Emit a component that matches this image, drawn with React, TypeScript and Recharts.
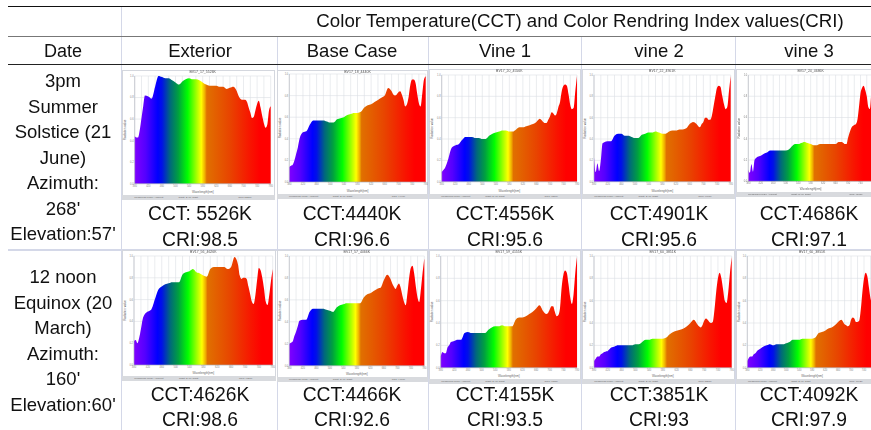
import { AreaChart, Area, XAxis, YAxis, CartesianGrid } from "recharts";

// wavelengths in nm: finer steps where the curves have sharp spikes
const wavelengths = [
  380, 385, 390, 395, 400, 405, 410,
  420, 430, 440, 450, 460, 470, 480, 490, 500, 510, 520, 530, 540, 550, 560, 570, 580, 590, 600, 610, 620, 630, 640, 650, 660, 670, 680,
  685, 690, 695, 700, 705, 710, 715, 720, 725, 730, 735, 740, 745, 750, 755, 760, 765, 770, 775, 780,
];

// relative radiation (percent of the peak)
const exteriorJune = [
  44, 43, 43, 50, 61, 72, 82,
  81, 79, 90, 100, 99, 98, 98, 96, 94, 92, 95, 97, 98, 97, 97, 96, 94, 92, 91, 91, 91, 90, 90, 88, 89, 90, 86,
  82, 79, 78, 78, 78, 76, 71, 66, 61, 62, 68, 74, 77, 71, 63, 56, 52, 55, 68, 72,
];
const baseJune = [
  14, 15, 16, 20, 26, 32, 40,
  46, 47, 53, 57, 57, 57, 57, 56, 55, 55, 58, 59, 60, 62, 63, 64, 64, 65, 69, 71, 72, 74, 76, 78, 80, 87, 84,
  81, 80, 81, 83, 84, 81, 76, 70, 72, 79, 90, 95, 95, 92, 82, 73, 70, 82, 95, 98,
];
const vine1June = [
  9, 11, 13, 17, 22, 28, 32,
  34, 35, 39, 42, 42, 42, 41, 41, 40, 40, 43, 45, 46, 47, 48, 48, 47, 47, 49, 51, 51, 52, 53, 54, 56, 59, 56,
  55, 55, 58, 61, 65, 64, 62, 64, 70, 75, 85, 90, 91, 90, 82, 72, 68, 69, 85, 99,
];
const vine2June = [
  23, 9, 17, 10, 20, 36, 37,
  38, 38, 43, 45, 45, 43, 43, 42, 41, 41, 44, 45, 46, 46, 47, 46, 45, 45, 47, 48, 48, 49, 49, 50, 54, 56, 54,
  52, 51, 54, 56, 60, 60, 58, 58, 62, 71, 80, 88, 90, 89, 81, 73, 68, 70, 85, 99,
];
const vine3June = [
  11, 8, 16, 9, 20, 22, 23,
  24, 26, 27, 29, 29, 29, 29, 29, 29, 30, 33, 35, 35, 36, 37, 36, 35, 34, 34, 35, 35, 35, 35, 35, 35, 37, 37,
  36, 35, 35, 41, 46, 50, 52, 53, 54, 58, 70, 83, 88, 90, 86, 80, 70, 68, 85, 98,
];
const exteriorMarch = [
  22, 23, 20, 25, 33, 42, 46,
  49, 51, 60, 69, 72, 74, 75, 76, 76, 76, 83, 85, 86, 88, 85, 84, 82, 81, 88, 90, 90, 90, 90, 88, 90, 99, 92,
  82, 79, 80, 80, 79, 72, 65, 58, 56, 64, 78, 89, 87, 80, 70, 58, 55, 64, 77, 88,
];
const baseMarch = [
  20, 21, 22, 27, 31, 36, 41,
  42, 42, 49, 52, 52, 52, 52, 51, 50, 49, 53, 55, 56, 57, 57, 57, 57, 57, 62, 65, 66, 68, 70, 71, 78, 83, 79,
  75, 72, 70, 73, 75, 71, 64, 58, 55, 66, 80, 89, 91, 84, 72, 62, 58, 70, 85, 98,
];
const vine1March = [
  10, 14, 13, 13, 18, 20, 23,
  24, 25, 25, 31, 32, 31, 31, 31, 31, 31, 34, 36, 37, 37, 38, 37, 37, 37, 43, 45, 45, 46, 48, 50, 53, 56, 51,
  49, 48, 49, 52, 55, 55, 50, 46, 47, 53, 72, 83, 87, 85, 75, 63, 57, 66, 85, 99,
];
const vine2March = [
  6, 8, 10, 10, 12, 13, 14,
  15, 18, 19, 20, 20, 20, 20, 20, 21, 21, 23, 25, 25, 26, 26, 26, 26, 27, 30, 32, 33, 34, 35, 37, 40, 43, 39,
  37, 36, 38, 42, 44, 43, 41, 40, 41, 52, 68, 80, 85, 80, 70, 60, 58, 68, 85, 99,
];
const vine3March = [
  6, 9, 10, 10, 12, 13, 15,
  17, 19, 20, 21, 20, 21, 21, 21, 22, 23, 25, 25, 25, 26, 26, 26, 26, 27, 31, 32, 33, 35, 36, 38, 41, 43, 39,
  38, 37, 38, 43, 45, 44, 41, 41, 42, 52, 68, 80, 85, 82, 72, 62, 58, 68, 85, 99,
];

const xTicks = [380, 400, 420, 440, 460, 480, 500, 520, 540, 560, 580, 600, 620, 640, 660, 680, 700, 720, 740, 760, 780];
const yTicks = [0, 0.2, 0.4, 0.6, 0.8, 1];

const columnHeaders = ["Exterior", "Base Case", "Vine 1", "vine 2", "vine 3"];
const columnCenters = [200, 352, 505, 659, 809];
const juneLabel = ["3pm", "Summer", "Solstice (21", "June)", "Azimuth:", "268'", "Elevation:57'"];
const marchLabel = ["12 noon", "Equinox (20", "March)", "Azimuth:", "160'", "Elevation:60'"];
const juneCct = ["CCT: 5526K", "CCT:4440K", "CCT:4556K", "CCT:4901K", "CCT:4686K"];
const juneCri = ["CRI:98.5", "CRI:96.6", "CRI:95.6", "CRI:95.6", "CRI:97.1"];
const marchCct = ["CCT:4626K", "CCT:4466K", "CCT:4155K", "CCT:3851K", "CCT:4092K"];
const marchCri = ["CRI:98.6", "CRI:92.6", "CRI:93.5", "CRI:93", "CRI:97.9"];

type Panel = {
  title: string;
  cct: string;
  values: number[];
  frame: [number, number, number, number]; // left, top, right, bottom
  plot: [number, number, number, number];
};

const panels: Panel[] = [
  { title: "BV17_17_5526K", cct: "5526", values: exteriorJune, frame: [122, 70, 275, 200], plot: [134.7, 76, 270.7, 183.7] },
  { title: "BV17_18_4440K", cct: "4440", values: baseJune, frame: [277, 70, 428, 199], plot: [289.3, 74, 425.7, 182] },
  { title: "BV17_20_4556K", cct: "4556", values: vine1June, frame: [429, 69, 581, 199], plot: [441.7, 75, 577, 181.7] },
  { title: "BV17_22_4901K", cct: "4901", values: vine2June, frame: [582, 69, 735, 199], plot: [594, 75, 730.7, 181.7] },
  { title: "BV17_24_4686K", cct: "4686", values: vine3June, frame: [736, 69, 885, 197], plot: [748.3, 75, 873, 181.3] },
  { title: "BV17_56_4626K", cct: "4626", values: exteriorMarch, frame: [122, 250, 276, 381], plot: [134, 256, 272.7, 365] },
  { title: "BV17_57_4466K", cct: "4466", values: baseMarch, frame: [277, 250, 428, 382], plot: [289.3, 256, 424.3, 365.7] },
  { title: "BV17_59_4155K", cct: "4155", values: vine1March, frame: [429, 250, 581, 384], plot: [440.7, 256, 577, 367.7] },
  { title: "BV17_60_3851K", cct: "3851", values: vine2March, frame: [582, 250, 735, 384], plot: [594, 256, 731.7, 367.7] },
  { title: "BV17_60_3851K", cct: "4092", values: vine3March, frame: [736, 250, 885, 384], plot: [747.3, 256, 877, 367.7] },
];

const spectrumStops: [number, string][] = [
  [0, "#8000ff"],
  [0.08, "#5400ff"],
  [0.17, "#0000ff"],
  [0.2, "#0010e8"],
  [0.26, "#00687c"],
  [0.32, "#00a040"],
  [0.39, "#00ff00"],
  [0.44, "#80ff00"],
  [0.49, "#ffff00"],
  [0.515, "#f0b000"],
  [0.53, "#e07000"],
  [0.7, "#e84400"],
  [0.85, "#f81400"],
  [0.92, "#ff0000"],
  [1, "#ff0000"],
];

const statusOffsets = [0.08, 0.37, 0.76];

const font = '"Liberation Sans", Arial, sans-serif';

function Spectrum({ panel, index }: { panel: Panel; index: number }) {
  const [fl, ft, fr, fb] = panel.frame;
  const [pl, pt, pr, pb] = panel.plot;
  const data = wavelengths.map((nm, i) => ({ nm, value: panel.values[i] / 100 }));
  const status = ["Measuring Mode: Ambient", "Sight: 2Am: Sight", `CCT: ${panel.cct}K`];
  return (
    <div
      style={{
        position: "absolute",
        left: fl,
        top: ft,
        width: fr - fl,
        height: fb - ft,
        background: "#fff",
        boxShadow: "inset 0 0 0 1px #d4d7de",
        filter: "blur(0.35px)",
      }}
    >
      <AreaChart
        width={fr - fl}
        height={fb - ft}
        data={data}
        margin={{ top: pt - ft, right: fr - pr, left: 0, bottom: 0 }}
      >
        <defs>
          <linearGradient id={`spectrum${index}`} x1="0" y1="0" x2="1" y2="0">
            {spectrumStops.map(([o, c]) => (
              <stop key={o} offset={o} stopColor={c} />
            ))}
          </linearGradient>
        </defs>
        <CartesianGrid stroke="#dcdfe4" strokeWidth={0.6} />
        <XAxis
          dataKey="nm"
          type="number"
          domain={[380, 780]}
          ticks={xTicks}
          interval={0}
          height={fb - pb}
          tickLine={false}
          tickSize={1}
          axisLine={{ stroke: "#b0b4bc", strokeWidth: 0.6 }}
          tick={{ fontSize: 2.6, fill: "#888", fontFamily: font }}
          tickFormatter={(v: number) => ((v - 380) % 40 === 0 ? String(v) : "")}
          tickMargin={0}
          label={{ value: "Wavelength[nm]", position: "insideBottom", offset: 7, fontSize: 3, fill: "#666", fontFamily: font }}
        />
        <YAxis
          type="number"
          domain={[0, 1]}
          ticks={yTicks}
          interval={0}
          width={pl - fl}
          tickLine={false}
          tickSize={1}
          axisLine={{ stroke: "#b0b4bc", strokeWidth: 0.6 }}
          tick={{ fontSize: 2.6, fill: "#888", fontFamily: font }}
          tickFormatter={(v: number) => v.toFixed(1)}
          tickMargin={0}
          label={{
            value: "Radiation value",
            angle: -90,
            position: "insideLeft",
            offset: 3,
            fontSize: 3,
            fill: "#666",
            fontFamily: font,
            style: { textAnchor: "middle" },
          }}
        />
        <Area
          type="monotone"
          dataKey="value"
          stroke="none"
          fill={`url(#spectrum${index})`}
          fillOpacity={1}
          dot={false}
          activeDot={false}
          isAnimationActive={false}
        />
      </AreaChart>
      <div
        style={{
          position: "absolute",
          left: 0,
          width: pr - fl + pl - fl,
          top: 0,
          textAlign: "center",
          fontFamily: font,
          fontSize: 3.5,
          lineHeight: "5px",
          color: "#555",
        }}
      >
        {panel.title}
      </div>
      <div
        style={{
          position: "absolute",
          left: 0,
          right: 0,
          bottom: 0,
          height: 5,
          background: "#d8dade",
          fontFamily: font,
          fontSize: 2.5,
          lineHeight: "5px",
          color: "#666",
        }}
      >
        {status.map((s, i) => (
          <span key={s} style={{ position: "absolute", left: statusOffsets[i] * (fr - fl), whiteSpace: "nowrap" }}>
            {s}
          </span>
        ))}
      </div>
    </div>
  );
}

function Label({ x, y, text, size = 18.5 }: { x: number; y: number; text: string; size?: number }) {
  return (
    <div
      style={{
        position: "absolute",
        left: x,
        top: y,
        transform: "translate(-50%, -50%)",
        fontFamily: font,
        fontSize: size,
        lineHeight: "24px",
        color: "#111",
        whiteSpace: "nowrap",
        filter: "blur(0.25px)",
      }}
    >
      {text}
    </div>
  );
}

function Rule({ x, y, w, h, color }: { x: number; y: number; w: number; h: number; color: string }) {
  return <div style={{ position: "absolute", left: x, top: y, width: w, height: h, background: color }} />;
}

const gridBlue = "#d4d8e8";

export default function App() {
  return (
    <div
      style={{
        position: "absolute",
        left: 0,
        top: 0,
        width: 871,
        height: 430,
        overflow: "hidden",
        background: "#fff",
      }}
    >
      <Rule x={121} y={6} w={1} h={424} color={gridBlue} />
      {[277, 428, 581, 735].map((x) => (
        <Rule key={x} x={x} y={36} w={1} h={394} color={gridBlue} />
      ))}
      <Rule x={8} y={249} w={863} h={1.5} color={gridBlue} />
      <Rule x={8} y={6} w={863} h={1} color="#111" />
      <Rule x={8} y={35.5} w={863} h={1.5} color="#777" />
      <Rule x={8} y={64} w={863} h={1} color="#222" />

      {panels.map((p, i) => (
        <Spectrum key={i} panel={p} index={i} />
      ))}

      <Label x={580} y={21} text="Color Temperature(CCT) and Color Rendring Index values(CRI)" size={18.7} />
      <Label x={63} y={51} text="Date" size={18} />
      {columnHeaders.map((h, i) => (
        <Label key={h} x={columnCenters[i]} y={51} text={h} />
      ))}
      {juneLabel.map((t, i) => (
        <Label key={t} x={63} y={81 + i * 25.5} text={t} />
      ))}
      {marchLabel.map((t, i) => (
        <Label key={t} x={63} y={277 + i * 25.6} text={t} />
      ))}
      {juneCct.map((t, i) => (
        <Label key={t} x={columnCenters[i]} y={214} text={t} size={19.3} />
      ))}
      {juneCri.map((t, i) => (
        <Label key={i} x={columnCenters[i]} y={240} text={t} size={19.3} />
      ))}
      {marchCct.map((t, i) => (
        <Label key={t} x={columnCenters[i]} y={395} text={t} size={19.3} />
      ))}
      {marchCri.map((t, i) => (
        <Label key={i} x={columnCenters[i]} y={420} text={t} size={19.3} />
      ))}
    </div>
  );
}
